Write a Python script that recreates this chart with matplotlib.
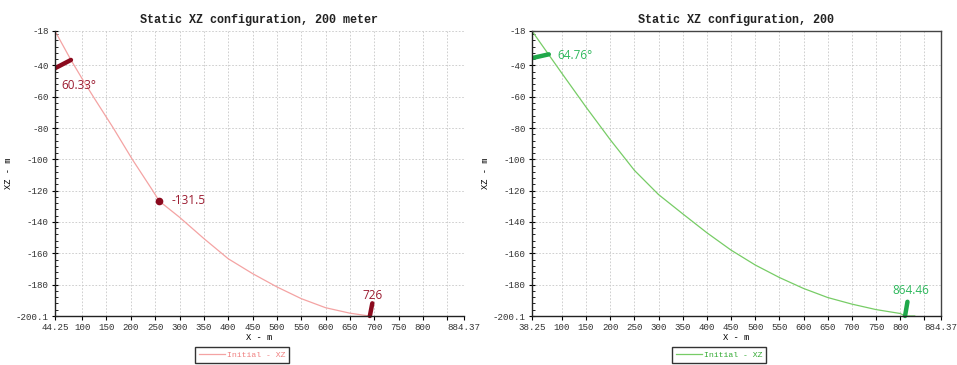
import numpy as np
import matplotlib.pyplot as plt
from matplotlib.ticker import MultipleLocator

# data
left_x = [44.25, 77, 100, 125, 164, 203, 245, 258.5, 300, 350, 400, 450, 500, 550, 600, 650, 690]
left_z = [-18, -36.5, -48.5, -61, -80, -100, -120, -126.7, -137, -150.6, -163.5, -173, -181.5, -189, -194.8, -198.3, -200.1]
left_angle_seg = ([44.25, 77], [-41.8, -36.5])
left_end_seg = ([691, 696], [-200.1, -192])
left_dot = (258.5, -126.7)

right_x = [38.25, 100, 150, 200, 250, 300, 350, 400, 450, 500, 550, 600, 650, 700, 750, 800, 810, 830]
right_z = [-18, -45, -66.6, -87.4, -107, -122.5, -134.8, -146.9, -158, -167.5, -175.5, -182.5, -188.3, -192.5, -196, -198.5, -200.1, -200.1]
right_angle_seg = ([38.25, 73], [-35.3, -32.9])
right_end_seg = ([810, 815], [-200.1, -191])

y_ticks = [-18, -40, -60, -80, -100, -120, -140, -160, -180, -200.1]
x_mid_ticks = [100, 150, 200, 250, 300, 350, 400, 450, 500, 550, 600, 650, 700, 750, 800, 850]

mono = 'Liberation Mono'
sans = 'Open Sans'

fig = plt.figure(figsize=(9.57, 3.65), dpi=100)
ax1 = fig.add_axes([55 / 957, 49 / 365, 409 / 957, 285 / 365])
ax2 = fig.add_axes([532 / 957, 49 / 365, 409 / 957, 285 / 365])


def setup(ax, xmin, xmax, title, full_frame):
    ax.set_xlim(xmin, xmax)
    ax.set_ylim(-200.1, -18)
    xt = [xmin] + x_mid_ticks + [xmax]
    xl = [f'{xmin:g}'] + [str(v) if v != 850 else '' for v in x_mid_ticks] + [f'{xmax:g}']
    ax.set_xticks(xt)
    ax.set_xticklabels(xl, fontfamily=mono, fontsize=6.6, color='#333333')
    ax.set_yticks(y_ticks)
    ax.set_yticklabels([f'{v:g}' for v in y_ticks], fontfamily=mono, fontsize=6.6, color='#333333')
    ax.yaxis.set_minor_locator(MultipleLocator(4))
    ax.tick_params(axis='y', which='major', direction='inout', length=5, width=0.8, pad=2)
    ax.tick_params(axis='y', which='minor', direction='in', length=2.5, width=0.6)
    ax.tick_params(axis='x', which='major', direction='out', length=3, width=0.8, pad=2)
    ax.grid(True, color='#c8c8c8', linestyle=(0, (2, 2)), linewidth=0.6)
    ax.set_axisbelow(True)
    ax.set_title(title, fontfamily=mono, fontsize=8.5, fontweight='bold', color='#222222', pad=6)
    ax.set_xlabel('X - m', fontfamily=mono, fontsize=6.3, labelpad=1)
    ax.set_ylabel('XZ - m', fontfamily=mono, fontsize=6.3, labelpad=2)
    for s in ['left', 'bottom']:
        ax.spines[s].set_color('#222222')
        ax.spines[s].set_linewidth(1)
    for s in ['top', 'right']:
        if full_frame:
            ax.spines[s].set_color('#444444')
            ax.spines[s].set_linewidth(1)
        else:
            ax.spines[s].set_visible(False)


setup(ax1, 44.25, 884.37, 'Static XZ configuration, 200 meter', False)
setup(ax2, 38.25, 884.37, 'Static XZ configuration, 200', True)

# left panel
ax1.plot(left_x, left_z, color='#f4a3a3', linewidth=0.9, label='Initial - XZ')
ax1.plot(*left_angle_seg, color='#8b0a1e', linewidth=3.2, solid_capstyle='round')
ax1.plot(*left_end_seg, color='#8b0a1e', linewidth=3.2, solid_capstyle='round', clip_on=False)
ax1.plot(*left_dot, 'o', color='#8b0a1e', markersize=4.5)
ax1.text(58, -53, '60.33°', fontfamily=sans, fontsize=8.5, color='#9b1b30', va='center')
ax1.text(283, -126, '-131.5', fontfamily=sans, fontsize=8.5, color='#9b1b30', va='center')
ax1.text(697, -187, '726', fontfamily=sans, fontsize=8.5, color='#9b1b30', va='center', ha='center')

# right panel
ax2.plot(right_x, right_z, color='#77cc66', linewidth=0.9, label='Initial - XZ')
ax2.plot(*right_angle_seg, color='#1fa84a', linewidth=3.2, solid_capstyle='round')
ax2.plot(*right_end_seg, color='#1fa84a', linewidth=3.2, solid_capstyle='round', clip_on=False)
ax2.text(90, -33.5, '64.76°', fontfamily=sans, fontsize=8.5, color='#2eb85c', va='center')
ax2.text(822, -184, '864.46', fontfamily=sans, fontsize=8.5, color='#2eb85c', va='center', ha='center')

for ax, col in [(ax1, '#f08080'), (ax2, '#33aa33')]:
    leg = ax.legend(loc='center', bbox_to_anchor=(0.457, -0.137), fancybox=False,
                    prop={'family': mono, 'size': 5.9}, handlelength=3.2, handletextpad=0.2,
                    borderpad=0.5, framealpha=1)
    leg.get_frame().set_edgecolor('#333333')
    leg.get_frame().set_linewidth(1)
    for t in leg.get_texts():
        t.set_color(col)

fig.savefig('out.png', dpi=100)
